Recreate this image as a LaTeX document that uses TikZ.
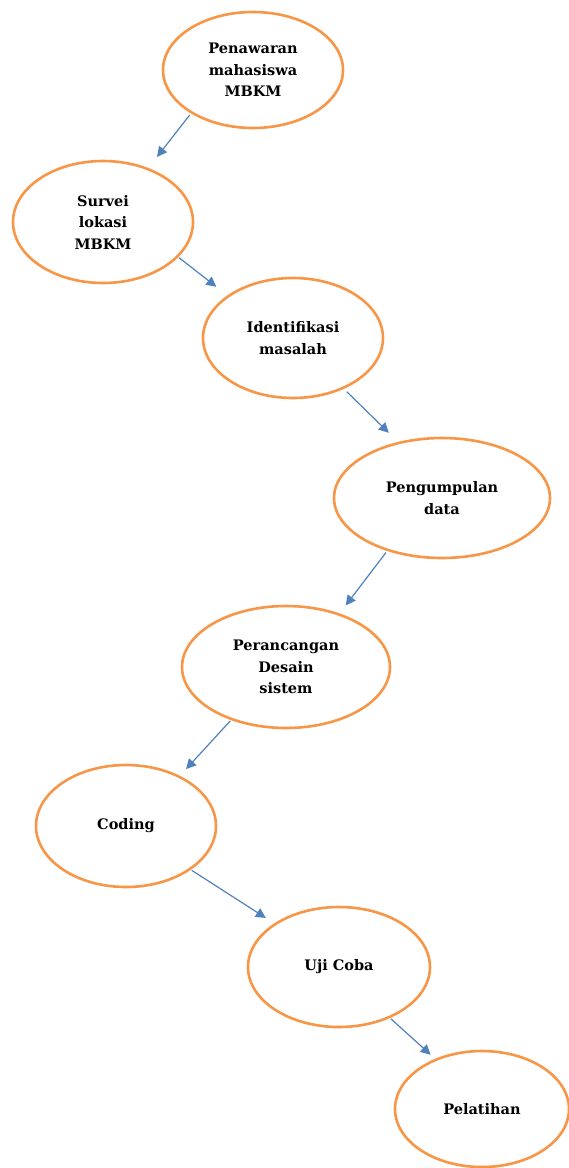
\documentclass[tikz,border=0pt]{standalone}
\usepackage{fontspec}
\setmainfont{DejaVu Serif}
\usetikzlibrary{shapes.geometric,arrows.meta}
\definecolor{ringorange}{RGB}{247,150,70}
\definecolor{arrowblue}{RGB}{79,129,189}
\tikzset{
  stage/.style={ellipse, draw=ringorange, line width=2.6pt, fill=white, inner sep=0pt,
    align=center, font=\fontsize{14.5}{21.5}\selectfont\bfseries},
  flow/.style={draw=arrowblue, line width=1.2pt, -{Triangle[length=10pt,width=10pt]}},
}
\begin{document}
\begin{tikzpicture}[x=1pt,y=-1pt]
\useasboundingbox (0,0) rectangle (569,1168);
\begin{scope}
\clip (0,0) rectangle (569,1168);
\node[stage, minimum width=180pt, minimum height=116pt] (n1) at (253,70) {Penawaran\\mahasiswa\\MBKM};
\node[stage, minimum width=180pt, minimum height=122pt] (n2) at (103,222) {Survei\\lokasi\\MBKM};
\node[stage, minimum width=180pt, minimum height=120pt] (n3) at (293,338) {Identifikasi\\masalah};
\node[stage, minimum width=216pt, minimum height=120pt] (n4) at (442,498) {Pengumpulan\\data};
\node[stage, minimum width=208pt, minimum height=122pt] (n5) at (286,667) {Perancangan\\Desain\\sistem};
\node[stage, minimum width=180pt, minimum height=122pt] (n6) at (126,826) {Coding};
\node[stage, minimum width=182pt, minimum height=120pt] (n7) at (339,967) {Uji Coba};
\node[stage, minimum width=174pt, minimum height=116pt] (n8) at (482,1109) {Pelatihan};
\end{scope}
\draw[flow, shorten <=2pt, shorten >=14pt] (n1.215) -- (n2.50);
\draw[flow, shorten <=1pt, shorten >=14pt] (n2.335) -- (n3.147);
\draw[flow, shorten <=4pt, shorten >=13pt] (n3.315) -- (n4.128);
\draw[flow, shorten <=2pt, shorten >=10pt] (n4.224) -- (n5.45);
\draw[flow, shorten <=1pt, shorten >=9pt] (n5.224) -- (n6.43);
\draw[flow, shorten <=1pt, shorten >=10pt] (n6.326) -- (n7.146);
\draw[flow, shorten <=1pt, shorten >=6pt] (n7.315) -- (n8.133);
\end{tikzpicture}
\end{document}
